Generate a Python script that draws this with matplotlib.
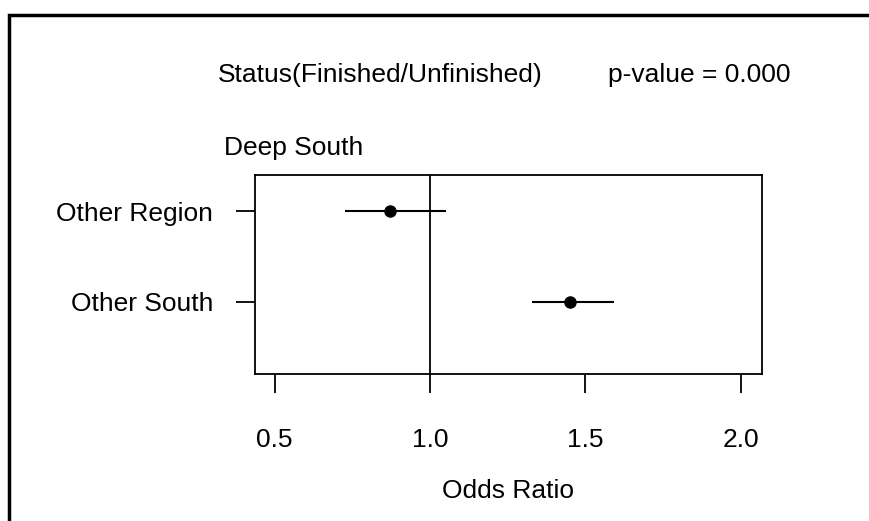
import matplotlib
matplotlib.use("Agg")
import matplotlib.pyplot as plt
from matplotlib.patches import Rectangle

plt.rcParams['font.family'] = ['Liberation Sans', 'DejaVu Sans']

# odds ratios vs. reference group "Deep South"
regions = ['Other Region', 'Other South']
odds_ratio = [0.872, 1.451]
ci_lower = [0.727, 1.329]
ci_upper = [1.052, 1.593]
y_pos = [2, 1]

x_ticks = [0.5, 1.0, 1.5, 2.0]
x_tick_labels = ['0.5', '1.0', '1.5', '2.0']

W, H = 870, 521
fig = plt.figure(figsize=(W / 100, H / 100), dpi=100)

def fx(px):
    return px / W

def fy(py):
    return 1 - py / H

# outer frame (only left/top edges are visible in the crop)
fig.patches.append(Rectangle((fx(9), fy(880)), 2.0, fy(15) - fy(880),
                             transform=fig.transFigure, fill=False,
                             edgecolor='black', linewidth=2.5, clip_on=False))

ax = fig.add_axes([fx(255), fy(374), fx(762) - fx(255), fy(175) - fy(374)])

ax.hlines(y_pos, ci_lower, ci_upper, color='black', linewidth=1.5)
ax.plot(odds_ratio, y_pos, 'o', color='black', markersize=8)
ax.axvline(1.0, color='black', linewidth=1.3)

ax.set_xlim(0.437, 2.069)
ax.set_ylim(0.2, 2.4)
ax.set_xticks(x_ticks)
ax.set_xticklabels(x_tick_labels)
ax.set_yticks(y_pos)
ax.set_yticklabels(regions)
ax.tick_params(axis='both', length=14, width=1.3, labelsize=19, direction='out')
ax.tick_params(axis='x', pad=25)
ax.tick_params(axis='y', pad=16)
for s in ax.spines.values():
    s.set_linewidth(1.3)

ax.set_xlabel('Odds Ratio', fontsize=19, labelpad=19)

fig.text(fx(380), fy(75), 'Status(Finished/Unfinished)', fontsize=19,
         ha='center', va='center')
fig.text(fx(699), fy(75), 'p-value = 0.000', fontsize=19,
         ha='center', va='center')
fig.text(fx(294), fy(148), 'Deep South', fontsize=19,
         ha='center', va='center')

fig.savefig('out.png', dpi=100)
